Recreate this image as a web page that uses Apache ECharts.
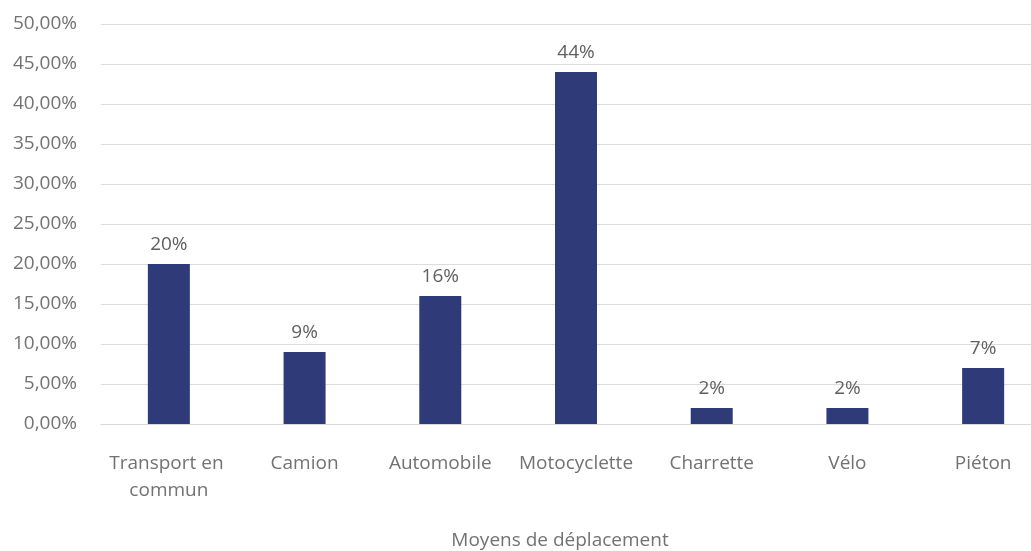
<!DOCTYPE html>
<html>
<head>
<meta charset="utf-8">
<script src="https://cdn.jsdelivr.net/npm/echarts@6/dist/echarts.min.js"></script>
<style>
  html, body { margin: 0; padding: 0; background: #ffffff; overflow: hidden; }
  /* the plot runs slightly past the right edge of the window */
  #chart { width: 1052px; height: 551px; }
</style>
</head>
<body>
<div id="chart"></div>
<script>
// Modes of travel and their share (%)
const categories = ['Transport en commun', 'Camion', 'Automobile', 'Motocyclette', 'Charrette', 'Vélo', 'Piéton'];
const shares = [20, 9, 16, 44, 2, 2, 7];
const axisTitle = 'Moyens de déplacement';

const font = '"Open Sans", "Noto Sans", sans-serif';
const textGrey = '#727272';

const chart = echarts.init(document.getElementById('chart'), null, { renderer: 'canvas' });
chart.setOption({
  backgroundColor: '#ffffff',
  animation: false,
  grid: {
    left: 101, top: 24, width: 950, height: 400,
    containLabel: false, outerBoundsMode: 'none'
  },
  xAxis: {
    type: 'category',
    data: categories,
    axisLine: { show: true, lineStyle: { color: '#d9d9d9', width: 1 } },
    axisTick: { show: false },
    axisLabel: {
      color: textGrey, fontFamily: font, fontSize: 19, margin: 26,
      width: 130, overflow: 'break', lineHeight: 27, interval: 0
    },
    name: axisTitle,
    nameLocation: 'middle',
    nameGap: 107,
    nameTextStyle: {
      color: textGrey, fontFamily: font, fontSize: 19,
      padding: [0, 32, 0, 0]
    }
  },
  yAxis: {
    type: 'value',
    min: 0, max: 50, interval: 5,
    axisLine: { show: false },
    axisTick: { show: false },
    splitLine: { lineStyle: { color: '#dddddd', width: 1 } },
    axisLabel: {
      color: textGrey, fontFamily: font, fontSize: 19, margin: 24,
      formatter: v => v.toFixed(2).replace('.', ',') + '%'
    }
  },
  series: [{
    type: 'bar',
    data: shares,
    barWidth: 42,
    itemStyle: { color: '#2e3b78' },
    label: {
      show: true, position: 'top', distance: 10,
      color: '#606060', fontFamily: font, fontSize: 19,
      formatter: p => p.value + '%'
    }
  }]
});
</script>
</body>
</html>
